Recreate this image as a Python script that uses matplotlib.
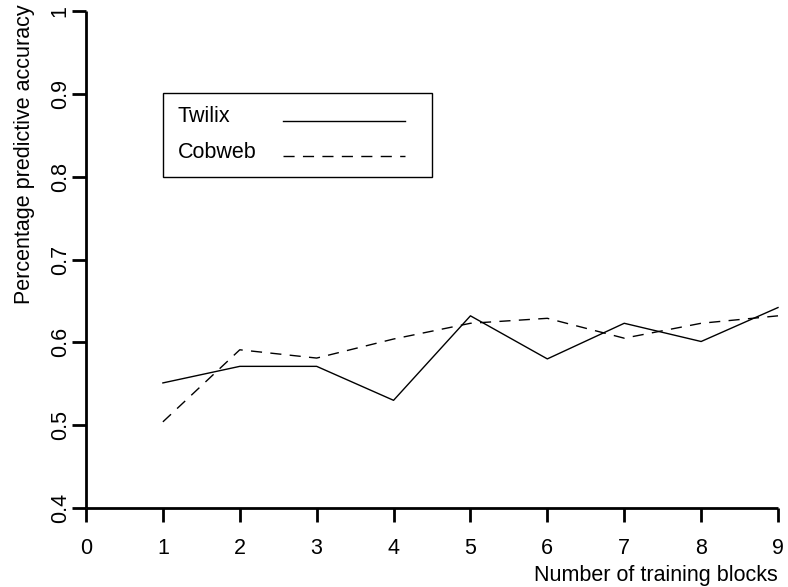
import matplotlib
matplotlib.use("Agg")
import matplotlib.pyplot as plt
from matplotlib.patches import Rectangle

# training blocks and accuracies
blocks = [1, 2, 3, 4, 5, 6, 7, 8, 9]
twilix = [0.551, 0.571, 0.571, 0.530, 0.632, 0.580, 0.623, 0.601, 0.642]
cobweb = [0.504, 0.591, 0.581, 0.604, 0.623, 0.629, 0.605, 0.623, 0.632]
xticks = [0, 1, 2, 3, 4, 5, 6, 7, 8, 9]
yticks = [0.4, 0.5, 0.6, 0.7, 0.8, 0.9, 1.0]
ytick_labels = ["0.4", "0.5", "0.6", "0.7", "0.8", "0.9", "1"]

plt.rcParams['font.family'] = ['Liberation Sans', 'DejaVu Sans']
FS = 15.5
W, H = 788, 587
L, R, B, T = 86, 778, 508, 11

fig = plt.figure(figsize=(W / 100, H / 100), dpi=100)
ax = fig.add_axes([L / W, 1 - B / H, (R - L) / W, (B - T) / H])

dash = (0, (8, 6))
ax.plot(blocks, twilix, color='black', lw=1.0, clip_on=False)
ax.plot(blocks, cobweb, color='black', lw=1.0, linestyle=dash, clip_on=False)

ax.set_xlim(0, 9)
ax.set_ylim(0.4, 1.0)
ax.set_xticks(xticks)
ax.set_yticks(yticks)
ax.set_yticklabels(ytick_labels)

for side in ['top', 'right']:
    ax.spines[side].set_visible(False)
for side in ['left', 'bottom']:
    ax.spines[side].set_linewidth(2.0)
    ax.spines[side].set_capstyle('butt')
ax.tick_params(direction='out', length=10, width=2.0, labelsize=FS)
ax.tick_params(axis='x', pad=11.5)
ax.tick_params(axis='y', pad=1, labelrotation=90)
for lab in ax.get_yticklabels():
    lab.set_va('center')

fig.text(R / W, 1 - 575 / H, "Number of training blocks", ha='right',
         va='center', fontsize=FS)
fig.text(25 / W, 1 - 4 / H, "Percentage predictive accuracy", ha='center',
         va='top', rotation=90, fontsize=FS)


# legend box drawn by hand, text on the left, line sample on the right
def px(x, y):
    return (x - L) / (R - L), (B - y) / (B - T)


bx0, by0 = px(163, 177)
bx1, by1 = px(432, 93)
ax.add_patch(Rectangle((bx0, by0), bx1 - bx0, by1 - by0, transform=ax.transAxes,
                       fill=False, edgecolor='black', lw=1.0, clip_on=False))
for name, ls, ty, ly in [("Twilix", '-', 117, 121), ("Cobweb", dash, 152, 156)]:
    tx, tyy = px(178, ty)
    ax.text(tx, tyy, name, transform=ax.transAxes, ha='left', va='center',
            fontsize=FS)
    x0, yy = px(283, ly)
    x1, _ = px(405, ly)
    ax.plot([x0, x1], [yy, yy], transform=ax.transAxes, color='black', lw=1.0,
            linestyle=ls, clip_on=False)

fig.savefig("out.png", dpi=100)
